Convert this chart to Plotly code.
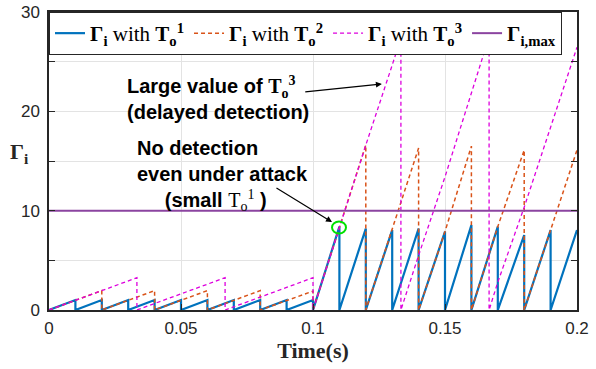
import plotly.graph_objects as go

# ---------------- data ----------------
t_T1 = [0, 0.01, 0.01, 0.02, 0.02, 0.03, 0.03, 0.04, 0.04, 0.05, 0.05, 0.06, 0.06,
        0.07, 0.07, 0.08, 0.08, 0.09, 0.09, 0.1, 0.1, 0.11, 0.11, 0.12, 0.12, 0.13,
        0.13, 0.14, 0.14, 0.15, 0.15, 0.16, 0.16, 0.17, 0.17, 0.18, 0.18, 0.19, 0.19, 0.2]
g_T1 = [0, 1.0, 0, 1.0, 0, 1.0, 0, 1.0, 0, 1.0, 0, 1.0, 0,
        1.0, 0, 1.0, 0, 1.0, 0, 1.0, 0, 8.4, 0, 8.2, 0, 8.05,
        0, 8.2, 0, 7.9, 0, 8.55, 0, 8.4, 0, 7.55, 0, 8.05, 0, 8.05]

t_T2 = [0, 0.02, 0.02, 0.04, 0.04, 0.06, 0.06, 0.08, 0.08, 0.1, 0.1, 0.11, 0.12,
        0.12, 0.13, 0.14, 0.14, 0.15, 0.16, 0.16, 0.17, 0.18, 0.18, 0.19, 0.2]
g_T2 = [0, 1.95, 0, 1.95, 0, 1.95, 0, 1.95, 0, 1.9, 0, 8.4, 16.6,
        0, 8.05, 16.3, 0, 7.9, 16.5, 0, 8.4, 16.1, 0, 8.05, 16.1]

t_T3 = [0, 0.0333, 0.0333, 0.0667, 0.0667, 0.1, 0.1, 0.11, 0.12, 0.13, 0.1333,
        0.1333, 0.14, 0.15, 0.16, 0.1667, 0.1667, 0.17, 0.18, 0.19, 0.2]
g_T3 = [0, 3.25, 0, 3.25, 0, 3.25, 0, 8.4, 16.6, 24.65, 27.4,
        0, 5.5, 13.4, 21.9, 27.5, 0, 2.8, 10.35, 18.4, 26.45]

t_max = [0, 0.2]
g_max = [10, 10]

names = [
    "<b>Γ</b><sub><b>i</b></sub> with <b>T</b><sub><b>o</b></sub><sup><b>1</b></sup>",
    "<b>Γ</b><sub><b>i</b></sub> with <b>T</b><sub><b>o</b></sub><sup><b>2</b></sup>",
    "<b>Γ</b><sub><b>i</b></sub> with <b>T</b><sub><b>o</b></sub><sup><b>3</b></sup>",
    "<b>Γ</b><sub><b>i,max</b></sub>",
]

x_ticks = [0, 0.05, 0.1, 0.15, 0.2]
x_ticktext = ["0", "0.05", "0.1", "0.15", "0.2"]
y_ticks = [0, 5, 10, 15, 20, 25, 30]
y_ticktext = ["0", "", "10", "", "20", "", "30"]

# ---------------- figure ----------------
SERIF = "Liberation Serif"
SANS = "Liberation Sans"
AX = "#262626"

fig = go.Figure()
fig.add_trace(go.Scatter(x=t_T1, y=g_T1, mode="lines", name=names[0],
                         line=dict(color="#0072BD", width=2.2)))
fig.add_trace(go.Scatter(x=t_T2, y=g_T2, mode="lines", name=names[1],
                         line=dict(color="#D95319", width=1.5, dash="4px,3px")))
fig.add_trace(go.Scatter(x=t_T3, y=g_T3, mode="lines", name=names[2],
                         line=dict(color="#DD00DD", width=1.3, dash="4px,3px")))
fig.add_trace(go.Scatter(x=t_max, y=g_max, mode="lines", name=names[3],
                         line=dict(color="#8B44A0", width=2)))

# green circle marking the peak
fig.add_shape(type="circle", xref="x", yref="y",
              x0=0.1072, x1=0.1125, y0=7.7, y1=8.9,
              line=dict(color="#00E000", width=2))

# arrows
fig.add_annotation(x=0.1261, y=22.75, ax=0.0965, ay=21.95, axref="x", ayref="y",
                   xref="x", yref="y", text="", showarrow=True,
                   arrowhead=2, arrowsize=1, arrowwidth=1.2, arrowcolor="black")
fig.add_annotation(x=0.1072, y=8.86, ax=0.0856, ay=12.38, axref="x", ayref="y",
                   xref="x", yref="y", text="", showarrow=True,
                   arrowhead=2, arrowsize=1, arrowwidth=1.2, arrowcolor="black")

T3 = ("<span style=\"font-family:'%s'\"><b>T</b><sub><b>o</b></sub>"
      "<sup><b>3</b></sup></span>") % SERIF
T1 = ("<span style=\"font-family:'%s'\">T<sub>o</sub><sup>1</sup></span>") % SERIF

fig.add_annotation(
    x=0.0288, y=21.3, xref="x", yref="y", xanchor="left", yanchor="middle",
    align="left", showarrow=False,
    text="<b>Large value of </b>" + T3 + "<br><b>(delayed detection)</b>",
    font=dict(family=SANS, size=20, color="black"))
fig.add_annotation(
    x=0.0326, y=13.5, xref="x", yref="y", xanchor="left", yanchor="middle",
    align="left", showarrow=False,
    text=("<b>No detection</b><br><b>even under attack</b><br>"
          "&nbsp;&nbsp;&nbsp;&nbsp;&nbsp;<b>(small </b>" + T1 + "<b> )</b>"),
    font=dict(family=SANS, size=20, color="black"))

# y label (horizontal, as in the reference)
fig.add_annotation(x=-0.055, y=0.527, xref="paper", yref="paper",
                   xanchor="center", yanchor="middle", showarrow=False,
                   text="<b>Γ</b><sub><b>i</b></sub>",
                   font=dict(family=SERIF, size=22, color=AX))

fig.update_layout(
    width=596, height=369,
    margin=dict(l=49, r=19, t=12, b=59, autoexpand=False),
    paper_bgcolor="white", plot_bgcolor="white",
    showlegend=True,
    legend=dict(orientation="h", x=0, y=1, xanchor="left", yanchor="top",
                bgcolor="white", bordercolor=AX, borderwidth=1,
                font=dict(family=SERIF, size=21, color="black"),
                itemwidth=30, tracegroupgap=0),
    font=dict(family=SANS, color=AX),
)
fig.update_xaxes(range=[0, 0.2], tickvals=x_ticks, ticktext=x_ticktext,
                 showgrid=True, gridcolor="#E3E3E3", gridwidth=1, zeroline=False,
                 showline=True, linecolor=AX, linewidth=1.5, mirror="ticks",
                 ticks="inside", ticklen=6, tickcolor=AX, ticklabelstandoff=2,
                 tickfont=dict(family=SANS, size=17, color=AX),
                 title=dict(text="<b>Time(s)</b>", standoff=0,
                            font=dict(family=SERIF, size=22, color=AX)))
fig.update_yaxes(range=[0, 30], tickvals=y_ticks, ticktext=y_ticktext,
                 showgrid=True, gridcolor="#E3E3E3", gridwidth=1, zeroline=False,
                 showline=True, linecolor=AX, linewidth=1.5, mirror="ticks",
                 ticks="inside", ticklen=6, tickcolor=AX, ticklabelstandoff=4,
                 tickfont=dict(family=SANS, size=17, color=AX))

fig.write_html("out.html")
